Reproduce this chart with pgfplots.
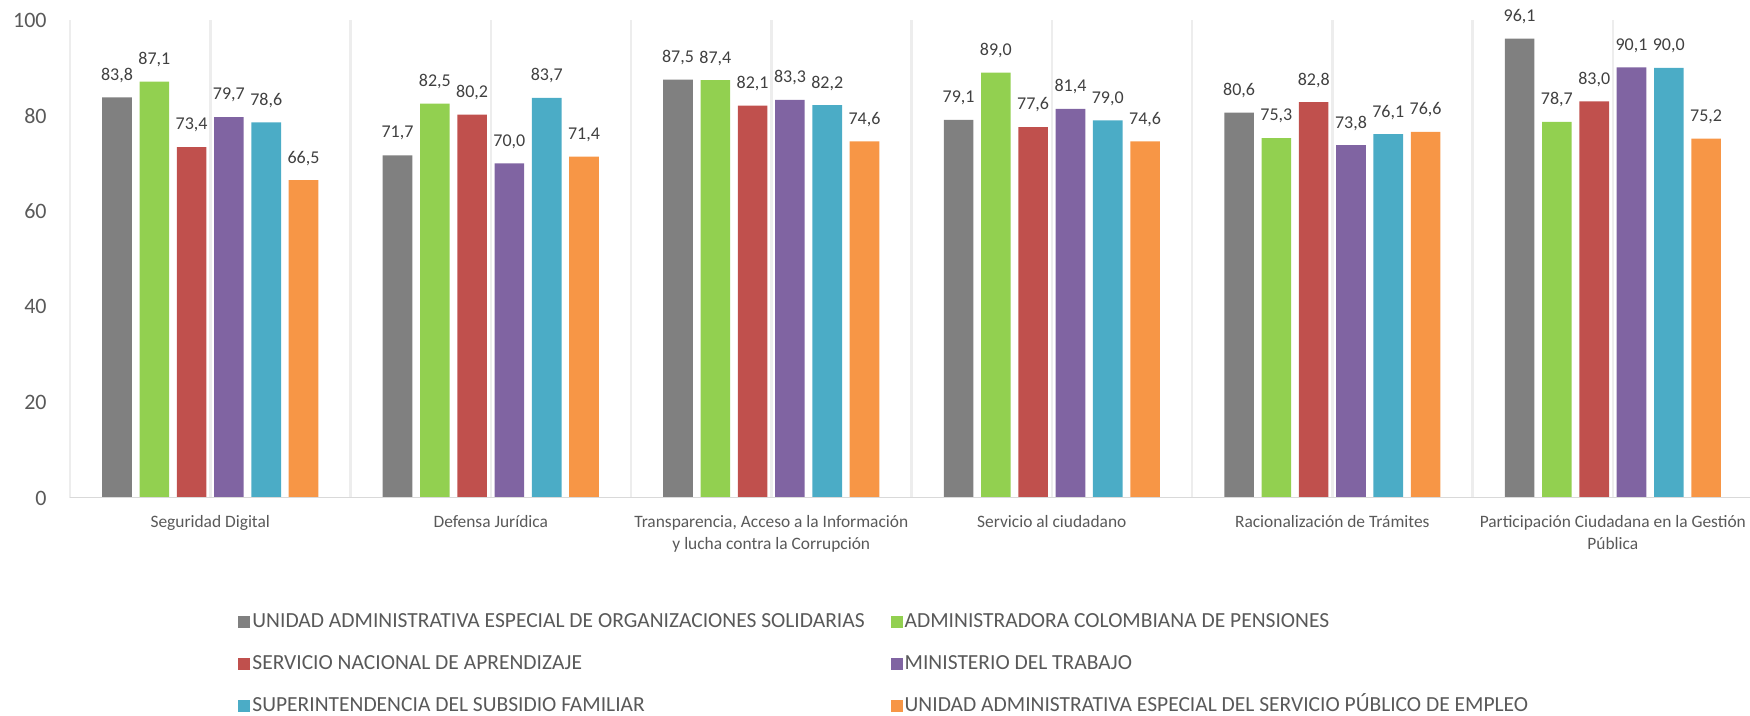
\documentclass[border=0pt]{standalone}
\usepackage{fontspec}
\setmainfont{Carlito}
\usepackage{pgfplots}
\pgfplotsset{compat=1.18}
\definecolor{cA}{HTML}{808080}
\definecolor{cB}{HTML}{92D050}
\definecolor{cC}{HTML}{C0504D}
\definecolor{cD}{HTML}{8064A2}
\definecolor{cE}{HTML}{4BACC6}
\definecolor{cF}{HTML}{F79646}
\definecolor{txt}{HTML}{595959}
\definecolor{lab}{HTML}{404040}
\definecolor{gridc}{HTML}{EDEDED}
\definecolor{axc}{HTML}{D9D9D9}
\begin{document}
\begin{tikzpicture}
\begin{axis}[
  scale only axis, width=840pt, height=239pt,
  xmin=-0.5, xmax=5.489, ymin=0, ymax=100,
  axis line style={draw=none},
  tick style={draw=none}, major tick length=0pt,
  /pgf/number format/assume math mode=true,
  xtick={0,...,5},
  xticklabels={Seguridad Digital, Defensa Jurídica, {Transparencia, Acceso a la Información\\y lucha contra la Corrupción}, Servicio al ciudadano, Racionalización de Trámites, {Participación Ciudadana en la Gestión\\Pública}},
  xticklabel style={align=center, font=\fontsize{8.7}{11}\selectfont, text=txt, anchor=north, inner sep=0pt, yshift=-8.5pt},
  extra x ticks={-0.5,0.5,1.5,2.5,3.5,4.5,5.5},
  extra x tick labels={},
  xmajorgrids=true,
  extra x tick style={xmajorgrids=true},
  grid style={line width=1.25pt, color=gridc},
  ytick={0,20,...,100},
  yticklabel style={font=\fontsize{11}{13}\selectfont, text=txt, anchor=east, inner sep=0pt, xshift=-11.5pt},
  ybar=3.85pt, bar width=14.8pt,
  nodes near coords={\pgfmathprintnumber[fixed,fixed zerofill,precision=1,use comma]{\pgfplotspointmeta}},
  every node near coord/.append style={font=\fontsize{9}{11}\selectfont, text=lab, anchor=center, yshift=11pt},
  legend columns=2,
  legend cell align=left,
  legend image code/.code={\fill[#1] (0pt,-3pt) rectangle (6pt,3pt);},
  legend style={at={(0.1,-0.347)}, anchor=west, draw=none, fill=none, inner sep=0pt,
    font=\fontsize{10.75}{12}\selectfont, text=txt, row sep=12pt,
    nodes={inner sep=1pt, text height=6.5pt, text depth=0.5pt},
    /tikz/every even column/.append style={column sep=12pt}},
]
\addplot[fill=cA, draw=none] coordinates {(0,83.8) (1,71.7) (2,87.5) (3,79.1) (4,80.6) (5,96.1)};
\addlegendentry{UNIDAD ADMINISTRATIVA ESPECIAL DE ORGANIZACIONES SOLIDARIAS}
\addplot[fill=cB, draw=none] coordinates {(0,87.1) (1,82.5) (2,87.4) (3,89.0) (4,75.3) (5,78.7)};
\addlegendentry{ADMINISTRADORA COLOMBIANA DE PENSIONES}
\addplot[fill=cC, draw=none] coordinates {(0,73.4) (1,80.2) (2,82.1) (3,77.6) (4,82.8) (5,83.0)};
\addlegendentry{SERVICIO NACIONAL DE APRENDIZAJE}
\addplot[fill=cD, draw=none] coordinates {(0,79.7) (1,70.0) (2,83.3) (3,81.4) (4,73.8) (5,90.1)};
\addlegendentry{MINISTERIO DEL TRABAJO}
\addplot[fill=cE, draw=none] coordinates {(0,78.6) (1,83.7) (2,82.2) (3,79.0) (4,76.1) (5,90.0)};
\addlegendentry{SUPERINTENDENCIA DEL SUBSIDIO FAMILIAR}
\addplot[fill=cF, draw=none] coordinates {(0,66.5) (1,71.4) (2,74.6) (3,74.6) (4,76.6) (5,75.2)};
\addlegendentry{UNIDAD ADMINISTRATIVA ESPECIAL DEL SERVICIO PÚBLICO DE EMPLEO}
\draw[axc, line width=1pt] (rel axis cs:0,0) -- (rel axis cs:1,0);
\coordinate (SW) at (rel axis cs:0,0);
\end{axis}
\pgfresetboundingbox
\path[use as bounding box] ([shift={(-35pt,-109pt)}]SW) rectangle ++(875pt,358pt);
\end{tikzpicture}
\end{document}
